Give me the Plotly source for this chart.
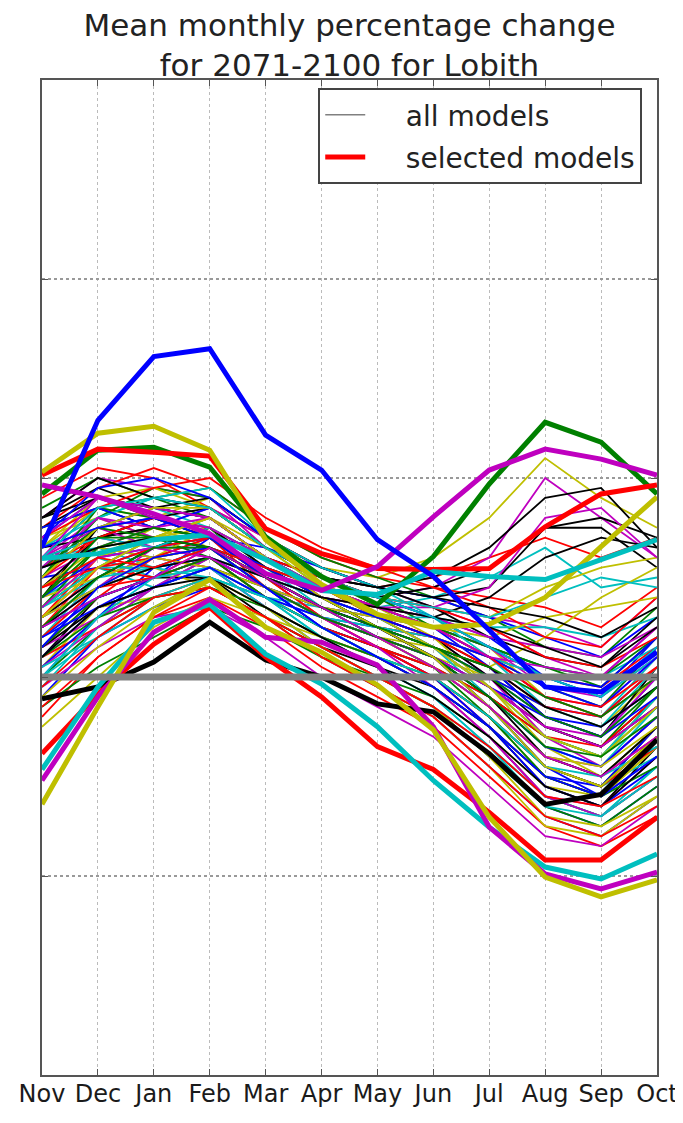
import plotly.graph_objects as go

months = ["Nov", "Dec", "Jan", "Feb", "Mar", "Apr", "May", "Jun", "Jul", "Aug", "Sep", "Oct"]

cycle_colors = ["#0000ff", "#008000", "#ff0000", "#00bfbf", "#bf00bf", "#bfbf00", "#000000"]

# thin lines: all models (values in %)
all_models = [
    [14, 18, 17, 16, 12, 10, 8, 6, 3, 0, -2, 4],
    [10, 15, 16, 15, 10, 7, 5, 2, -2, -6, -8, -2],
    [6, 12, 14, 14, 9, 6, 3, 0, -5, -10, -12, -6],
    [3, 9, 11, 12, 8, 4, 1, -2, -7, -12, -14, -9],
    [16, 20, 19, 18, 13, 10, 8, 7, 6, 5, 3, 8],
    [8, 13, 12, 13, 9, 6, 4, 2, 0, -3, -5, 0],
    [12, 17, 15, 14, 11, 8, 6, 4, 1, -4, -6, 1],
    [0, 6, 9, 11, 7, 3, 0, -3, -8, -13, -15, -11],
    [5, 10, 12, 13, 10, 7, 4, 1, -3, -8, -10, -5],
    [18, 21, 20, 17, 14, 11, 9, 10, 12, 14, 12, 14],
    [11, 16, 18, 17, 13, 9, 7, 8, 10, 13, 9, 10],
    [9, 14, 13, 15, 11, 9, 8, 9, 12, 20, 16, 12],
    [13, 17, 16, 18, 14, 11, 10, 12, 16, 22, 18, 15],
    [2, 8, 10, 10, 6, 3, 1, -1, -5, -11, -13, -7],
    [-2, 4, 7, 9, 6, 2, -1, -4, -9, -14, -16, -12],
    [7, 11, 14, 16, 12, 9, 6, 3, -1, -5, -7, -1],
    [15, 19, 21, 19, 15, 12, 10, 9, 8, 7, 5, 9],
    [4, 10, 13, 15, 11, 7, 4, 2, -2, -7, -9, -4],
    [10, 13, 15, 17, 14, 11, 9, 7, 5, 2, 0, 5],
    [1, 7, 8, 10, 7, 4, 2, -1, -6, -11, -12, -7],
    [12, 14, 15, 14, 12, 10, 9, 8, 9, 15, 15, 11],
    [6, 9, 11, 12, 9, 6, 5, 3, 0, -4, -5, -1],
    [17, 20, 18, 19, 15, 12, 10, 8, 6, 3, 2, 7],
    [-4, 2, 6, 8, 5, 1, -2, -5, -10, -15, -17, -14],
    [9, 12, 10, 11, 8, 7, 6, 5, 3, 1, 0, 3],
    [3, 6, 9, 12, 10, 8, 6, 4, 0, -6, -9, -4],
    [14, 16, 14, 15, 11, 8, 5, 3, -1, -6, -8, -2],
    [8, 15, 17, 16, 12, 8, 5, 2, -3, -9, -11, -5],
    [11, 13, 12, 14, 13, 11, 9, 8, 6, 4, 2, 6],
    [0, 5, 8, 9, 6, 3, 0, -2, -6, -12, -14, -10],
    [5, 11, 12, 11, 8, 5, 3, 0, -4, -9, -11, -6],
    [13, 15, 17, 15, 12, 9, 7, 5, 2, -2, -4, 2],
    [-1, 3, 6, 7, 4, 0, -3, -6, -11, -16, -17, -13],
    [7, 12, 15, 13, 10, 6, 4, 3, 1, 4, 8, 11],
    [15, 18, 16, 14, 10, 8, 7, 6, 8, 12, 14, 13],
    [4, 8, 10, 14, 11, 8, 5, 2, -3, -9, -12, -8],
    [10, 16, 19, 18, 14, 10, 8, 5, 2, -1, -3, 3],
    [2, 5, 8, 10, 8, 5, 3, 1, -3, -8, -10, -6],
    [12, 13, 11, 12, 9, 7, 6, 6, 5, 5, 4, 6],
    [6, 10, 12, 11, 7, 4, 2, -1, -6, -12, -13, -8],
    [9, 12, 14, 16, 13, 10, 8, 6, 3, -2, -4, 1],
    [16, 19, 17, 16, 12, 9, 8, 9, 11, 15, 16, 14],
    [1, 6, 11, 13, 9, 5, 2, -1, -5, -10, -11, -5],
    [-3, 1, 4, 7, 5, 2, 0, -3, -8, -13, -15, -11],
    [11, 14, 16, 14, 10, 7, 5, 4, 2, 0, -1, 3],
    [8, 11, 9, 12, 10, 8, 6, 3, -2, -7, -9, -3],
    [5, 9, 13, 14, 10, 6, 3, 1, -3, -8, -9, -4],
    [13, 18, 19, 17, 13, 10, 8, 7, 6, 9, 11, 12],
    [3, 7, 9, 11, 9, 6, 4, 2, -1, -5, -7, -3],
    [10, 11, 13, 13, 11, 9, 7, 5, 1, -4, -6, 0],
    [7, 13, 14, 12, 8, 5, 3, 1, -2, -6, -8, -3],
    [14, 17, 19, 20, 16, 13, 11, 9, 7, 4, 3, 8],
    [0, 4, 7, 10, 8, 5, 2, 0, -4, -9, -11, -8],
    [12, 16, 14, 13, 10, 8, 7, 7, 9, 16, 17, 12],
    [4, 9, 11, 9, 6, 4, 2, 0, -4, -10, -12, -7],
    [9, 14, 15, 14, 11, 8, 6, 4, 0, -5, -7, -2],
    [2, 7, 10, 12, 9, 5, 3, 0, -5, -11, -13, -9],
    [15, 17, 18, 16, 12, 9, 7, 5, 3, 1, -1, 4],
    [6, 11, 10, 13, 10, 7, 5, 4, 2, -2, -4, 0],
    [-1, 5, 9, 11, 7, 3, 0, -3, -7, -12, -14, -9],
    [11, 15, 13, 12, 9, 7, 6, 5, 3, -1, -2, 2],
    [8, 10, 12, 15, 12, 9, 7, 4, -1, -7, -10, -5],
    [13, 14, 16, 17, 13, 10, 9, 10, 13, 18, 19, 13],
    [5, 8, 10, 12, 9, 7, 5, 3, 0, -3, -4, 1],
    [10, 17, 16, 14, 10, 7, 4, 1, -4, -10, -12, -6],
    [3, 8, 12, 14, 10, 6, 3, 0, -4, -9, -11, -7],
    [7, 10, 11, 10, 8, 6, 5, 4, 2, 0, -2, 2],
    [12, 15, 17, 16, 12, 8, 6, 3, -1, -5, -6, 0],
    [-5, 0, 5, 8, 6, 2, -1, -4, -9, -15, -16, -12],
    [16, 18, 17, 18, 14, 11, 9, 7, 4, 2, 1, 6],
    [8, 12, 13, 14, 10, 7, 5, 2, -2, -7, -9, -4],
    [11, 15, 14, 13, 11, 9, 7, 5, 3, 1, 0, 4],
    [4, 9, 10, 12, 8, 5, 3, 1, -2, -6, -7, -2],
    [13, 16, 18, 19, 14, 11, 9, 6, 2, -3, -5, 1],
    [1, 5, 9, 12, 9, 6, 3, -1, -6, -12, -14, -10],
    [9, 13, 12, 11, 9, 7, 6, 5, 4, 6, 7, 8],
    [6, 10, 13, 15, 11, 8, 5, 2, -2, -8, -10, -5],
    [15, 17, 15, 17, 13, 10, 8, 6, 4, 0, -2, 3],
    [2, 6, 8, 9, 7, 4, 2, -1, -5, -10, -12, -9],
    [10, 14, 16, 15, 12, 9, 6, 4, 1, -3, -4, 1],
    [7, 11, 11, 13, 10, 8, 6, 3, -1, -6, -8, -2],
    [12, 18, 17, 16, 12, 9, 7, 6, 4, 3, 2, 5],
    [-2, 3, 7, 10, 7, 3, 0, -3, -8, -14, -15, -12],
    [5, 9, 11, 12, 10, 7, 5, 3, 1, -3, -5, -1],
    [14, 19, 20, 18, 14, 10, 8, 6, 3, 0, -1, 4],
    [3, 8, 10, 12, 8, 5, 2, 0, -4, -9, -11, -6],
    [9, 11, 13, 14, 12, 10, 8, 7, 5, 2, 1, 4],
    [0, 6, 10, 11, 8, 4, 1, -2, -7, -13, -14, -10],
    [11, 16, 15, 16, 12, 9, 7, 5, 2, -2, -3, 2],
    [6, 9, 12, 13, 9, 6, 4, 1, -3, -8, -9, -5],
    [16, 20, 18, 17, 13, 10, 9, 8, 7, 6, 4, 7],
    [4, 7, 9, 11, 8, 6, 4, 2, -1, -4, -6, -2],
    [8, 13, 15, 14, 11, 8, 5, 3, 0, -4, -6, -1],
    [-3, 2, 6, 9, 6, 2, -1, -4, -9, -14, -16, -13],
    [12, 14, 13, 15, 12, 9, 8, 7, 6, 8, 10, 9],
    [7, 12, 13, 12, 9, 6, 4, 2, -1, -5, -7, -3],
    [10, 15, 17, 17, 13, 9, 6, 3, -1, -6, -8, -3],
    [2, 7, 9, 10, 7, 4, 1, -2, -6, -11, -13, -8],
    [13, 15, 16, 14, 11, 8, 6, 4, 2, -1, -3, 2],
    [5, 10, 13, 13, 9, 6, 4, 2, -2, -7, -8, -4],
    [9, 12, 11, 13, 11, 9, 7, 5, 2, -2, -3, 1],
    [1, 4, 8, 10, 8, 5, 2, 0, -4, -9, -10, -7],
    [14, 18, 16, 15, 12, 9, 7, 5, 2, 1, 0, 5],
    [6, 11, 14, 16, 12, 8, 5, 2, -3, -9, -11, -6],
    [11, 13, 14, 13, 10, 8, 7, 6, 5, 3, 1, 5],
    [3, 9, 12, 13, 9, 5, 2, -1, -5, -10, -12, -8],
    [8, 14, 14, 13, 10, 7, 5, 3, 1, -2, -4, 0],
    [-1, 4, 8, 9, 6, 3, 0, -3, -7, -12, -13, -10],
    [12, 17, 18, 17, 13, 10, 8, 6, 3, 0, -2, 3],
    [5, 8, 10, 13, 10, 7, 4, 1, -3, -8, -10, -6],
]

# thick lines: selected models
sel_blue = [13.1, 25.8, 32.2, 33.0, 24.3, 20.8, 13.8, 10.1, 4.7, -1.0, -1.5, 2.5]
sel_green = [18.4, 22.8, 23.1, 21.1, 14.1, 10.1, 7.3, 12.1, 19.4, 25.6, 23.6, 18.4]
sel_red_up = [20.3, 22.9, 22.6, 22.2, 14.9, 12.4, 10.9, 10.8, 10.9, 15.1, 18.4, 19.3]
sel_yellow_up = [20.6, 24.5, 25.2, 22.8, 13.8, 9.3, 6.3, 5.0, 5.3, 8.0, 13.1, 18.1]
sel_magenta_up = [19.3, 18.1, 16.4, 14.4, 10.4, 8.7, 11.1, 16.1, 20.8, 22.9, 21.9, 20.3]
sel_cyan_up = [11.9, 12.4, 13.8, 14.3, 11.8, 8.7, 8.3, 10.6, 10.1, 9.8, 11.8, 13.8]
sel_black = [-2.2, -1.0, 1.5, 5.5, 1.7, 0.0, -2.7, -3.5, -7.7, -12.8, -11.8, -6.3]
sel_red_low = [-7.7, -1.7, 3.3, 7.0, 2.0, -2.0, -7.0, -9.3, -13.6, -18.4, -18.4, -14.1]
sel_cyan_low = [-9.3, -1.0, 5.5, 7.3, 2.3, -0.7, -5.0, -10.4, -15.1, -19.1, -20.3, -17.8]
sel_magenta_low = [-10.4, -2.0, 4.5, 7.8, 4.0, 3.5, 1.2, -5.0, -15.1, -19.8, -21.3, -19.6]
sel_yellow_low = [-12.8, -3.0, 6.5, 9.8, 5.0, 2.5, -0.8, -5.3, -14.1, -20.1, -22.1, -20.4]

selected = [
    (sel_green, "#008000"),
    (sel_red_up, "#ff0000"),
    (sel_yellow_up, "#bfbf00"),
    (sel_cyan_up, "#00bfbf"),
    (sel_magenta_up, "#bf00bf"),
    (sel_blue, "#0000ff"),
    (sel_black, "#000000"),
    (sel_red_low, "#ff0000"),
    (sel_cyan_low, "#00bfbf"),
    (sel_magenta_low, "#bf00bf"),
    (sel_yellow_low, "#bfbf00"),
]

zero_line = [0] * 12
y_ticks = [-40, -20, 0, 20, 40, 60]

fig = go.Figure()

for i, vals in enumerate(all_models):
    fig.add_trace(go.Scatter(
        x=months, y=vals, mode="lines",
        line=dict(color=cycle_colors[i % len(cycle_colors)], width=1.8),
        showlegend=False, hoverinfo="skip"))

for vals, col in selected:
    fig.add_trace(go.Scatter(
        x=months, y=vals, mode="lines",
        line=dict(color=col, width=5),
        showlegend=False, hoverinfo="skip"))

fig.add_trace(go.Scatter(
    x=months, y=zero_line, mode="lines",
    line=dict(color="#808080", width=7),
    showlegend=False, hoverinfo="skip"))

# legend entries
pad = "\u00a0" * 4
fig.add_trace(go.Scatter(x=[None], y=[None], mode="lines", name=pad + "all models",
                         legendgroup="a",
                         line=dict(color="#808080", width=1.5)))
fig.add_trace(go.Scatter(x=[None], y=[None], mode="lines", name=pad + "selected models",
                         legendgroup="b",
                         line=dict(color="#ff0000", width=5)))

fig.update_layout(
    width=683, height=1123,
    margin=dict(l=34, r=34, t=72, b=56, autoexpand=False),
    paper_bgcolor="white", plot_bgcolor="white",
    font=dict(family="DejaVu Sans", color="#222222"),
    title=dict(
        text="Mean monthly percentage change<br>for 2071-2100 for Lobith",
        x=0.5, xref="paper", xanchor="center",
        y=1 - 28 / 1123, yref="container", yanchor="top",
        font=dict(size=31, family="DejaVu Sans", color="#222222"),
    ),
    legend=dict(
        x=0.976, y=0.992, xanchor="right", yanchor="top",
        bgcolor="white", bordercolor="#444444", borderwidth=2,
        font=dict(size=28, family="DejaVu Sans", color="#222222"),
        tracegroupgap=3, itemwidth=40,
    ),
    showlegend=True,
)

fig.update_xaxes(
    type="category", categoryorder="array", categoryarray=months,
    range=[0, 11], automargin=False,
    showgrid=True, gridcolor="#bbbbbb", griddash="dot", gridwidth=1,
    showline=True, mirror="ticks", linecolor="#555555", linewidth=2,
    ticks="inside", ticklen=6, tickwidth=1, tickcolor="#555555",
    ticklabelstandoff=-4,
    tickfont=dict(size=24, family="DejaVu Sans", color="#1a1a1a"),
    zeroline=False,
)
fig.update_yaxes(
    range=[-40, 60], tickvals=y_ticks, showticklabels=False, automargin=False,
    showgrid=True, gridcolor="#999999", griddash="dot", gridwidth=1.5,
    showline=True, mirror="ticks", linecolor="#555555", linewidth=2,
    ticks="inside", ticklen=6, tickwidth=1, tickcolor="#555555",
    zeroline=False,
)

fig.write_html("out.html")
